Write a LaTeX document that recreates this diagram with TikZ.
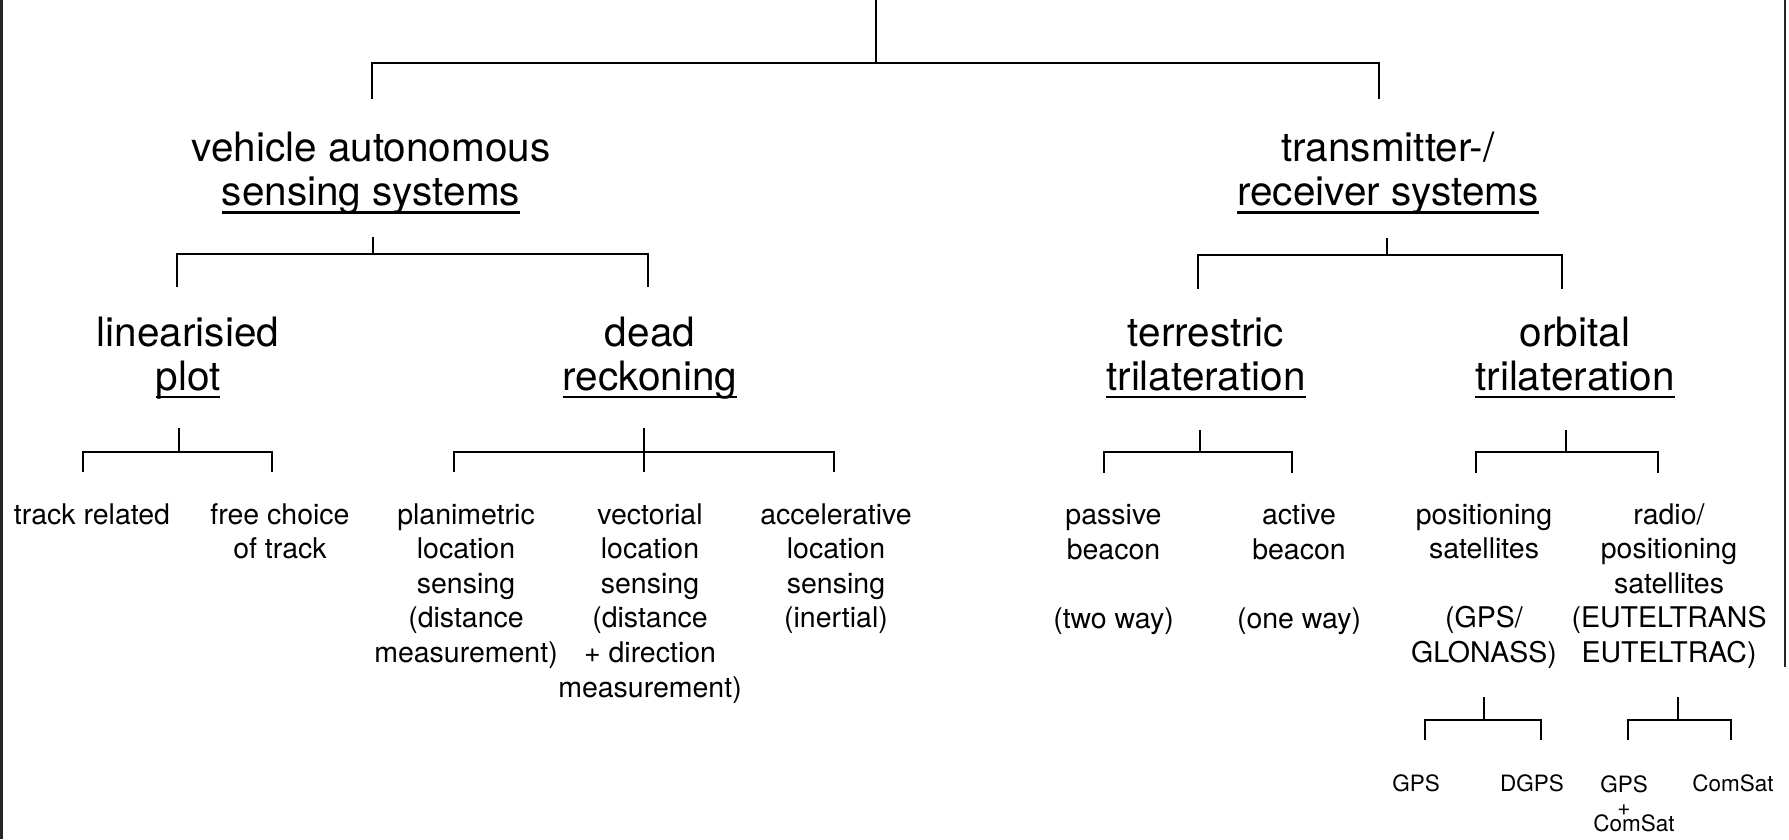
\documentclass[tikz,border=0pt]{standalone}
\usepackage{fontspec}
\setmainfont{TeX Gyre Heros}
\newcommand\myul[1]{\setbox0\hbox{#1}\rlap{\rule[-8pt]{\wd0}{2.4pt}}\box0}
\begin{document}
\begin{tikzpicture}[x=1pt,y=-1pt,
  big/.style={anchor=base,align=center,inner sep=0pt,font=\fontsize{40.5}{44}\selectfont},
  mid/.style={anchor=base,align=center,inner sep=0pt,font=\fontsize{28.5}{34.6}\selectfont},
  small/.style={anchor=base,align=center,inner sep=0pt,font=\fontsize{22.5}{19.5}\selectfont},
  conn/.style={line width=2pt,black},
  edge/.style={line width=3pt,black!85}]
\useasboundingbox (0,0) rectangle (1789,839);
% page edges
\coordinate (el1) at (1.5,0); \coordinate (el2) at (1.5,839);
\coordinate (er1) at (1785,0); \coordinate (er2) at (1785,667);
\draw[edge] (el1) -- (el2);
\draw[edge,line width=2pt] (er1) -- (er2);

% level 2 (base = last line)
\node[big] (vas) at (371,205.7) {vehicle autonomous\\\myul{sensing systems}};
\node[big] (trs) at (1388,205.7) {transmitter-/\\\myul{receiver systems}};
% level 3
\node[big] (lin) at (188,390) {linearisied\\\myul{plot}};
\node[big] (dead) at (650,390) {dead\\\myul{reckoning}};
\node[big] (ter) at (1206,390) {terrestric\\\myul{trilateration}};
\node[big] (orb) at (1575,390) {orbital\\\myul{trilateration}};
% level 4
\node[mid] (tr) at (92,524) {track related};
\node[mid] (fc) at (280,558.6) {free choice\\of track};
\node[mid] (pl) at (466,662.4) {planimetric\\location\\sensing\\(distance\\measurement)};
\node[mid] (ve) at (650,697) {vectorial\\location\\sensing\\(distance\\+ direction\\measurement)};
\node[mid] (ac) at (836,627.8) {accelerative\\location\\sensing\\(inertial)};
\node[mid] (pb) at (1113.5,628.5) {passive\\beacon\\\mbox{}\\(two way)};
\node[mid] (ab) at (1299,628.5) {active\\beacon\\\mbox{}\\(one way)};
\node[mid] (ps) at (1484,662.4) {positioning\\satellites\\\mbox{}\\(GPS/\\GLONASS)};
\node[mid] (rp) at (1669,662.4) {radio/\\positioning\\satellites\\(EUTELTRANS\\EUTELTRAC)};
% level 5
\node[small] (g1) at (1416,791.7) {GPS};
\node[small] (g2) at (1532,791.7) {DGPS};
\node[small] (g3) at (1624,831) {GPS\\[3.5pt]\makebox[0pt]{+}\hspace*{16pt}\\[-3.5pt]\hspace*{20pt}ComSat};
\node[small] (g4) at (1733,791.7) {ComSat};

% root bracket
\coordinate (root) at (875.5,0);
\coordinate (root-bar) at (875.5,62.5);
\coordinate (vas-in) at (372,98.5);
\coordinate (trs-in) at (1378.5,99);
\draw[conn] (root) -- (root-bar);
\draw[conn] (vas-in) |- (root-bar) -| (trs-in);

% vas bracket
\coordinate (vas-out) at (373,237);
\coordinate (vas-bar) at (373,254);
\coordinate (lin-in) at (177,287);
\coordinate (dead-in) at (647.5,287);
\draw[conn] (vas-out) -- (vas-bar);
\draw[conn] (lin-in) |- (vas-bar) -| (dead-in);

% trs bracket
\coordinate (trs-out) at (1387,238);
\coordinate (trs-bar) at (1387,255);
\coordinate (ter-in) at (1198,288.5);
\coordinate (orb-in) at (1561.6,288.5);
\draw[conn] (trs-out) -- (trs-bar);
\draw[conn] (ter-in) |- (trs-bar) -| (orb-in);

% lin bracket
\coordinate (lin-out) at (178.5,428.3);
\coordinate (lin-bar) at (178.5,451.7);
\coordinate (tr-in) at (83,471.7);
\coordinate (fc-in) at (272,471.7);
\draw[conn] (lin-out) -- (lin-bar);
\draw[conn] (tr-in) |- (lin-bar) -| (fc-in);

% dead bracket
\coordinate (dead-out) at (644,428.3);
\coordinate (dead-bar) at (644,451.7);
\coordinate (pl-in) at (454,471.7);
\coordinate (ve-in) at (644,471.7);
\coordinate (ac-in) at (833.5,471.7);
\draw[conn] (dead-out) -- (ve-in);
\draw[conn] (pl-in) |- (dead-bar) -| (ac-in);

% ter bracket
\coordinate (ter-out) at (1200,430);
\coordinate (ter-bar) at (1200,451.7);
\coordinate (pb-in) at (1103.5,472.7);
\coordinate (ab-in) at (1292.4,472.7);
\draw[conn] (ter-out) -- (ter-bar);
\draw[conn] (pb-in) |- (ter-bar) -| (ab-in);

% orb bracket
\coordinate (orb-out) at (1566,430);
\coordinate (orb-bar) at (1566,452);
\coordinate (ps-in) at (1475.5,473);
\coordinate (rp-in) at (1657.5,473);
\draw[conn] (orb-out) -- (orb-bar);
\draw[conn] (ps-in) |- (orb-bar) -| (rp-in);

% ps bracket
\coordinate (ps-out) at (1483.5,696.7);
\coordinate (ps-bar) at (1483.5,720);
\coordinate (g1-in) at (1425,740);
\coordinate (g2-in) at (1541,740);
\draw[conn] (ps-out) -- (ps-bar);
\draw[conn] (g1-in) |- (ps-bar) -| (g2-in);

% rp bracket
\coordinate (rp-out) at (1678,696.7);
\coordinate (rp-bar) at (1678,720);
\coordinate (g3-in) at (1627.7,740);
\coordinate (g4-in) at (1730.5,740);
\draw[conn] (rp-out) -- (rp-bar);
\draw[conn] (g3-in) |- (rp-bar) -| (g4-in);
\end{tikzpicture}
\end{document}
